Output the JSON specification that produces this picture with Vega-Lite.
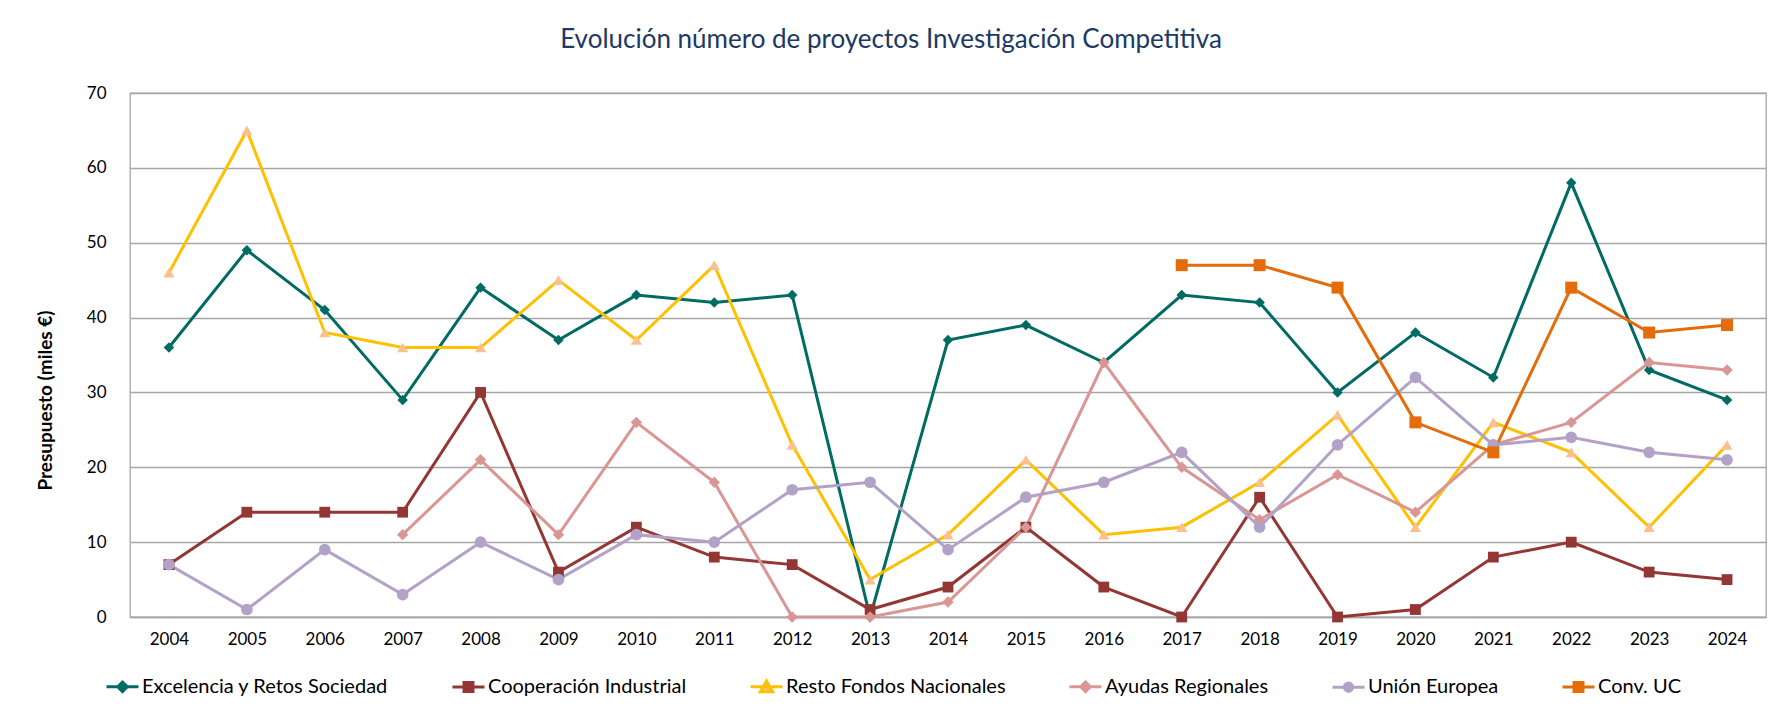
{
  "$schema": "https://vega.github.io/schema/vega-lite/v6.json",
  "autosize": {"type": "none"},
  "width": 1636,
  "height": 524,
  "padding": {"left": 130, "top": 93, "right": 14, "bottom": 89},
  "background": "white",
  "config": {
    "font": "Lato",
    "view": {"stroke": "#A6A6A6", "strokeWidth": 1.3},
    "legend": {"padding": 0}
  },
  "title": {
    "text": "Evolución número de proyectos Investigación Competitiva",
    "anchor": "middle",
    "frame": "group",
    "dx": -57,
    "offset": 10,
    "baseline": "alphabetic",
    "font": "Lato",
    "fontSize": 26,
    "fontWeight": "normal",
    "color": "#203864"
  },
  "data": {
    "values": [
      {"year": "2004", "series": "Excelencia y Retos Sociedad", "value": 36},
      {"year": "2005", "series": "Excelencia y Retos Sociedad", "value": 49},
      {"year": "2006", "series": "Excelencia y Retos Sociedad", "value": 41},
      {"year": "2007", "series": "Excelencia y Retos Sociedad", "value": 29},
      {"year": "2008", "series": "Excelencia y Retos Sociedad", "value": 44},
      {"year": "2009", "series": "Excelencia y Retos Sociedad", "value": 37},
      {"year": "2010", "series": "Excelencia y Retos Sociedad", "value": 43},
      {"year": "2011", "series": "Excelencia y Retos Sociedad", "value": 42},
      {"year": "2012", "series": "Excelencia y Retos Sociedad", "value": 43},
      {"year": "2013", "series": "Excelencia y Retos Sociedad", "value": 0},
      {"year": "2014", "series": "Excelencia y Retos Sociedad", "value": 37},
      {"year": "2015", "series": "Excelencia y Retos Sociedad", "value": 39},
      {"year": "2016", "series": "Excelencia y Retos Sociedad", "value": 34},
      {"year": "2017", "series": "Excelencia y Retos Sociedad", "value": 43},
      {"year": "2018", "series": "Excelencia y Retos Sociedad", "value": 42},
      {"year": "2019", "series": "Excelencia y Retos Sociedad", "value": 30},
      {"year": "2020", "series": "Excelencia y Retos Sociedad", "value": 38},
      {"year": "2021", "series": "Excelencia y Retos Sociedad", "value": 32},
      {"year": "2022", "series": "Excelencia y Retos Sociedad", "value": 58},
      {"year": "2023", "series": "Excelencia y Retos Sociedad", "value": 33},
      {"year": "2024", "series": "Excelencia y Retos Sociedad", "value": 29},

      {"year": "2004", "series": "Cooperación Industrial", "value": 7},
      {"year": "2005", "series": "Cooperación Industrial", "value": 14},
      {"year": "2006", "series": "Cooperación Industrial", "value": 14},
      {"year": "2007", "series": "Cooperación Industrial", "value": 14},
      {"year": "2008", "series": "Cooperación Industrial", "value": 30},
      {"year": "2009", "series": "Cooperación Industrial", "value": 6},
      {"year": "2010", "series": "Cooperación Industrial", "value": 12},
      {"year": "2011", "series": "Cooperación Industrial", "value": 8},
      {"year": "2012", "series": "Cooperación Industrial", "value": 7},
      {"year": "2013", "series": "Cooperación Industrial", "value": 1},
      {"year": "2014", "series": "Cooperación Industrial", "value": 4},
      {"year": "2015", "series": "Cooperación Industrial", "value": 12},
      {"year": "2016", "series": "Cooperación Industrial", "value": 4},
      {"year": "2017", "series": "Cooperación Industrial", "value": 0},
      {"year": "2018", "series": "Cooperación Industrial", "value": 16},
      {"year": "2019", "series": "Cooperación Industrial", "value": 0},
      {"year": "2020", "series": "Cooperación Industrial", "value": 1},
      {"year": "2021", "series": "Cooperación Industrial", "value": 8},
      {"year": "2022", "series": "Cooperación Industrial", "value": 10},
      {"year": "2023", "series": "Cooperación Industrial", "value": 6},
      {"year": "2024", "series": "Cooperación Industrial", "value": 5},

      {"year": "2004", "series": "Resto Fondos Nacionales", "value": 46},
      {"year": "2005", "series": "Resto Fondos Nacionales", "value": 65},
      {"year": "2006", "series": "Resto Fondos Nacionales", "value": 38},
      {"year": "2007", "series": "Resto Fondos Nacionales", "value": 36},
      {"year": "2008", "series": "Resto Fondos Nacionales", "value": 36},
      {"year": "2009", "series": "Resto Fondos Nacionales", "value": 45},
      {"year": "2010", "series": "Resto Fondos Nacionales", "value": 37},
      {"year": "2011", "series": "Resto Fondos Nacionales", "value": 47},
      {"year": "2012", "series": "Resto Fondos Nacionales", "value": 23},
      {"year": "2013", "series": "Resto Fondos Nacionales", "value": 5},
      {"year": "2014", "series": "Resto Fondos Nacionales", "value": 11},
      {"year": "2015", "series": "Resto Fondos Nacionales", "value": 21},
      {"year": "2016", "series": "Resto Fondos Nacionales", "value": 11},
      {"year": "2017", "series": "Resto Fondos Nacionales", "value": 12},
      {"year": "2018", "series": "Resto Fondos Nacionales", "value": 18},
      {"year": "2019", "series": "Resto Fondos Nacionales", "value": 27},
      {"year": "2020", "series": "Resto Fondos Nacionales", "value": 12},
      {"year": "2021", "series": "Resto Fondos Nacionales", "value": 26},
      {"year": "2022", "series": "Resto Fondos Nacionales", "value": 22},
      {"year": "2023", "series": "Resto Fondos Nacionales", "value": 12},
      {"year": "2024", "series": "Resto Fondos Nacionales", "value": 23},

      {"year": "2007", "series": "Ayudas Regionales", "value": 11},
      {"year": "2008", "series": "Ayudas Regionales", "value": 21},
      {"year": "2009", "series": "Ayudas Regionales", "value": 11},
      {"year": "2010", "series": "Ayudas Regionales", "value": 26},
      {"year": "2011", "series": "Ayudas Regionales", "value": 18},
      {"year": "2012", "series": "Ayudas Regionales", "value": 0},
      {"year": "2013", "series": "Ayudas Regionales", "value": 0},
      {"year": "2014", "series": "Ayudas Regionales", "value": 2},
      {"year": "2015", "series": "Ayudas Regionales", "value": 12},
      {"year": "2016", "series": "Ayudas Regionales", "value": 34},
      {"year": "2017", "series": "Ayudas Regionales", "value": 20},
      {"year": "2018", "series": "Ayudas Regionales", "value": 13},
      {"year": "2019", "series": "Ayudas Regionales", "value": 19},
      {"year": "2020", "series": "Ayudas Regionales", "value": 14},
      {"year": "2021", "series": "Ayudas Regionales", "value": 23},
      {"year": "2022", "series": "Ayudas Regionales", "value": 26},
      {"year": "2023", "series": "Ayudas Regionales", "value": 34},
      {"year": "2024", "series": "Ayudas Regionales", "value": 33},

      {"year": "2004", "series": "Unión Europea", "value": 7},
      {"year": "2005", "series": "Unión Europea", "value": 1},
      {"year": "2006", "series": "Unión Europea", "value": 9},
      {"year": "2007", "series": "Unión Europea", "value": 3},
      {"year": "2008", "series": "Unión Europea", "value": 10},
      {"year": "2009", "series": "Unión Europea", "value": 5},
      {"year": "2010", "series": "Unión Europea", "value": 11},
      {"year": "2011", "series": "Unión Europea", "value": 10},
      {"year": "2012", "series": "Unión Europea", "value": 17},
      {"year": "2013", "series": "Unión Europea", "value": 18},
      {"year": "2014", "series": "Unión Europea", "value": 9},
      {"year": "2015", "series": "Unión Europea", "value": 16},
      {"year": "2016", "series": "Unión Europea", "value": 18},
      {"year": "2017", "series": "Unión Europea", "value": 22},
      {"year": "2018", "series": "Unión Europea", "value": 12},
      {"year": "2019", "series": "Unión Europea", "value": 23},
      {"year": "2020", "series": "Unión Europea", "value": 32},
      {"year": "2021", "series": "Unión Europea", "value": 23},
      {"year": "2022", "series": "Unión Europea", "value": 24},
      {"year": "2023", "series": "Unión Europea", "value": 22},
      {"year": "2024", "series": "Unión Europea", "value": 21},

      {"year": "2017", "series": "Conv. UC", "value": 47},
      {"year": "2018", "series": "Conv. UC", "value": 47},
      {"year": "2019", "series": "Conv. UC", "value": 44},
      {"year": "2020", "series": "Conv. UC", "value": 26},
      {"year": "2021", "series": "Conv. UC", "value": 22},
      {"year": "2022", "series": "Conv. UC", "value": 44},
      {"year": "2023", "series": "Conv. UC", "value": 38},
      {"year": "2024", "series": "Conv. UC", "value": 39}
    ]
  },
  "encoding": {
    "x": {
      "field": "year",
      "type": "ordinal",
      "scale": {"type": "point", "padding": 0.5},
      "axis": {
        "title": null,
        "labelAngle": 0,
        "labelFontSize": 17,
        "labelColor": "#000000",
        "labelPadding": 14,
        "ticks": false,
        "domainColor": "#A6A6A6",
        "domainWidth": 1.3,
        "grid": false
      }
    },
    "y": {
      "field": "value",
      "type": "quantitative",
      "scale": {"domain": [0, 70], "nice": false},
      "axis": {
        "title": "Presupuesto (miles €)",
        "titleFontSize": 19,
        "titleFontWeight": "bold",
        "titleColor": "#000000",
        "titlePadding": 31,
        "titleY": 307,
        "values": [0, 10, 20, 30, 40, 50, 60, 70],
        "labelFontSize": 17,
        "labelColor": "#000000",
        "labelPadding": 24,
        "ticks": false,
        "domain": false,
        "grid": true,
        "gridColor": "#A6A6A6",
        "gridWidth": 1.3
      }
    }
  },
  "layer": [
    {
      "mark": {"type": "line", "strokeWidth": 3},
      "encoding": {
        "stroke": {
          "field": "series",
          "type": "nominal",
          "scale": {
            "domain": ["Excelencia y Retos Sociedad", "Cooperación Industrial", "Resto Fondos Nacionales", "Ayudas Regionales", "Unión Europea", "Conv. UC"],
            "range": ["#006B63", "#943634", "#FFC000", "#D99694", "#B3A2C7", "#E46C0A"]
          },
          "legend": {
            "title": null,
            "orient": "none",
            "direction": "horizontal",
            "legendX": -25,
            "legendY": 576,
            "symbolSize": 1024,
            "symbolStrokeWidth": 3,
            "labelFont": "Lato",
            "labelFontSize": 20,
            "labelColor": "#000000",
            "labelOffset": 2,
            "columnPadding": 57,
            "labelLimit": 400,
            "encode": {
              "symbols": {
                "update": {
                  "shape": {"signal": "['M-1,0L1,0M0,-0.3L0.3,0L0,0.3L-0.3,0Z','M-1,0L1,0M-0.28,-0.28L0.28,-0.28L0.28,0.28L-0.28,0.28Z','M-1,0L1,0M0,-0.36L0.38,0.3L-0.38,0.3Z','M-1,0L1,0M0,-0.3L0.3,0L0,0.3L-0.3,0Z','M-1,0L1,0M0.26,0L0.225,0.13L0.13,0.225L0,0.26L-0.13,0.225L-0.225,0.13L-0.26,0L-0.225,-0.13L-0.13,-0.225L0,-0.26L0.13,-0.225L0.225,-0.13Z','M-1,0L1,0M-0.28,-0.28L0.28,-0.28L0.28,0.28L-0.28,0.28Z'][indexof(['Excelencia y Retos Sociedad','Cooperación Industrial','Resto Fondos Nacionales','Ayudas Regionales','Unión Europea','Conv. UC'], datum.value)]"},
                  "fill": {"signal": "['#006B63','#943634','#FAC090','#D99694','#B3A2C7','#E46C0A'][indexof(['Excelencia y Retos Sociedad','Cooperación Industrial','Resto Fondos Nacionales','Ayudas Regionales','Unión Europea','Conv. UC'], datum.value)]"},
                  "stroke": {"signal": "['#006B63','#943634','#FFC000','#D99694','#B3A2C7','#E46C0A'][indexof(['Excelencia y Retos Sociedad','Cooperación Industrial','Resto Fondos Nacionales','Ayudas Regionales','Unión Europea','Conv. UC'], datum.value)]"},
                  "strokeWidth": {"value": 3},
                  "size": {"value": 1024},
                  "opacity": {"value": 1}
                }
              }
            }
          }
        }
      }
    },
    {
      "mark": {"type": "point", "filled": true, "opacity": 1},
      "encoding": {
        "fill": {
          "field": "series",
          "type": "nominal",
          "scale": {
            "domain": ["Conv. UC", "Unión Europea", "Ayudas Regionales", "Resto Fondos Nacionales", "Cooperación Industrial", "Excelencia y Retos Sociedad"],
            "range": ["#E46C0A", "#B3A2C7", "#D99694", "#FAC090", "#943634", "#006B63"]
          },
          "legend": null
        },
        "shape": {
          "field": "series",
          "type": "nominal",
          "scale": {
            "domain": ["Conv. UC", "Unión Europea", "Ayudas Regionales", "Resto Fondos Nacionales", "Cooperación Industrial", "Excelencia y Retos Sociedad"],
            "range": ["square", "circle", "diamond", "triangle-up", "square", "diamond"]
          },
          "legend": null
        },
        "size": {
          "field": "series",
          "type": "nominal",
          "scale": {
            "domain": ["Conv. UC", "Unión Europea", "Ayudas Regionales", "Resto Fondos Nacionales", "Cooperación Industrial", "Excelencia y Retos Sociedad"],
            "range": [144, 110, 110, 170, 144, 110]
          },
          "legend": null
        }
      }
    }
  ]
}
